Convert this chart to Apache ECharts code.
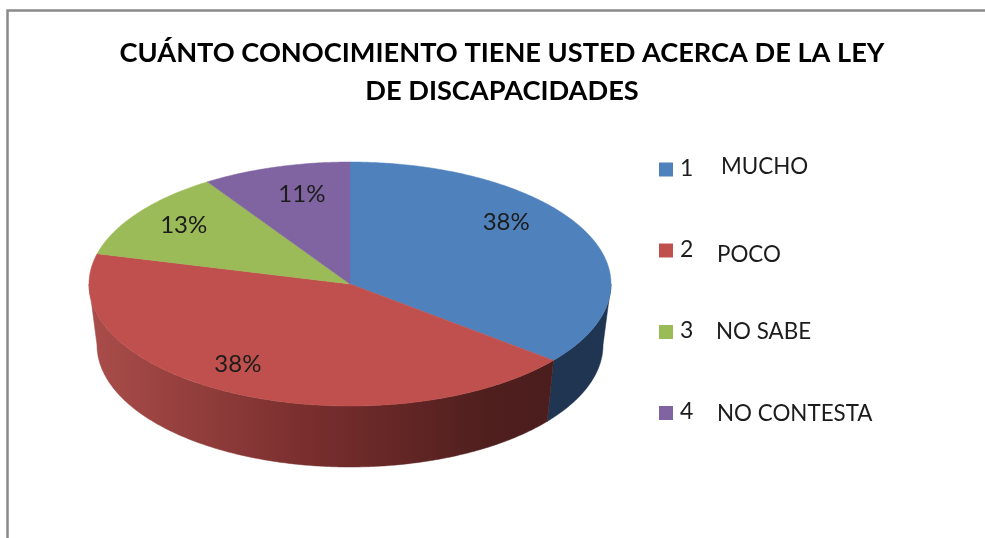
<!DOCTYPE html>
<html>
<head>
<meta charset="utf-8">
<style>html,body{margin:0;padding:0;background:#fff}#c{width:985px;height:538px}</style>
<script src="https://cdn.jsdelivr.net/npm/echarts@6/dist/echarts.min.js"></script>
</head>
<body>
<div id="c"></div>
<script>
const titleLines = ['CUÁNTO CONOCIMIENTO TIENE USTED ACERCA DE LA LEY', 'DE DISCAPACIDADES'];
const categoryIds = ['1', '2', '3', '4'];
const categoryNames = ['MUCHO', 'POCO', 'NO SABE', 'NO CONTESTA'];
const percentages = [38, 38, 13, 11];
const topColors = ['#4f81bd', '#c0504d', '#9bbb59', '#8064a2'];

// Layout of the tilted disc (Excel-like 3D pie with perspective)
const cx = 350, cy = 284, rx = 261, ry = 122;
const bx = 350, by = 345, brx = 253, bry = 122;
const perspective = 0.826;
const labelNudge = [[15, -30], [-42, 15], [-39, -16], [-3.5, -20]];
const legendStyleKeys = ['m', 'p', 's', 'c'];

const wallFills = [
  '#1f3552',
  {type: 'linear', x: 97, y: 0, x2: 553, y2: 0, global: true, colorStops: [
    {offset: 0, color: '#a84c49'},
    {offset: 0.45, color: '#7a2f2e'},
    {offset: 0.85, color: '#4f1f1e'},
    {offset: 1, color: '#4b1d1c'}
  ]},
  '#4f6228', '#403152'
];

const total = percentages.reduce((a, b) => a + b, 0);
function warp(frac) {
  const h = Math.PI * frac;
  return 2 * Math.atan2(perspective * Math.sin(h), Math.cos(h));
}
function pt(ex, ey, erx, ery, a) {
  return [ex + erx * Math.sin(a), ey - ery * Math.cos(a)];
}
function arc(ex, ey, erx, ery, a0, a1) {
  const out = [], n = Math.max(2, Math.ceil(Math.abs(a1 - a0) / 0.01));
  for (let i = 0; i <= n; i++) out.push(pt(ex, ey, erx, ery, a0 + (a1 - a0) * i / n));
  return out;
}
function makeRender(i) {
  return function (params, api) {
    const before = percentages.slice(0, i).reduce((a, b) => a + b, 0);
    const a0 = warp(before / total), a1 = warp((before + api.value(0)) / total);
    const children = [];
    const w0 = Math.max(a0, Math.PI / 2), w1 = Math.min(a1, Math.PI * 1.5);
    if (w1 > w0) {
      const pts = arc(cx, cy, rx, ry, w0, w1).concat(arc(bx, by, brx, bry, w1, w0));
      children.push({type: 'polygon', shape: {points: pts},
        style: {fill: wallFills[i], stroke: wallFills[i], lineWidth: 0.5}, silent: true});
    }
    const top = [[cx, cy]].concat(arc(cx, cy, rx, ry, a0, a1));
    children.push({type: 'polygon', shape: {points: top},
      style: {fill: topColors[i], stroke: topColors[i], lineWidth: 0.5}, silent: true, z2: 5});
    const mid = (a0 + a1) / 2, p = pt(cx, cy, rx * 0.6, ry * 0.6, mid);
    children.push({type: 'text', x: p[0] + labelNudge[i][0], y: p[1] + labelNudge[i][1], z2: 10, silent: true,
      style: {text: api.value(0) + '%', fill: '#1c1c1c', font: '400 24px Lato', align: 'center', verticalAlign: 'middle'}});
    return {type: 'group', children};
  };
}

const names = categoryIds.map((id, i) => id + ' ' + categoryNames[i]);
const chart = echarts.init(document.getElementById('c'), null, {renderer: 'canvas'});
chart.setOption({
  animation: false,
  backgroundColor: '#ffffff',
  title: {
    text: titleLines.join('\n'),
    left: 497, top: 29, textAlign: 'center',
    textStyle: {fontFamily: 'Lato', fontWeight: 'bold', fontSize: 27.2, lineHeight: 38, color: '#000'}
  },
  legend: {
    orient: 'vertical', left: 654, top: 150, icon: 'rect',
    itemWidth: 14, itemHeight: 14, itemGap: 52, selectedMode: false,
    data: names,
    formatter: function (n) {
      const i = names.indexOf(n);
      return '{n|' + categoryIds[i] + '}{' + legendStyleKeys[i] + '|' + categoryNames[i] + '}';
    },
    textStyle: {
      fontFamily: 'Lato', fontSize: 22, color: '#1c1c1c', lineHeight: 29,
      rich: {
        n: {fontFamily: 'Lato', fontSize: 23, color: '#1c1c1c', width: 28, padding: [0, 0, 2, 2]},
        m: {fontFamily: 'Lato', fontSize: 22.4, color: '#1c1c1c', padding: [0, 0, 5, 13]},
        p: {fontFamily: 'Lato', fontSize: 22.4, color: '#1c1c1c', padding: [8, 0, 0, 9]},
        s: {fontFamily: 'Lato', fontSize: 22.4, color: '#1c1c1c', padding: [0, 0, 0, 8]},
        c: {fontFamily: 'Lato', fontSize: 22.4, color: '#1c1c1c', padding: [2, 0, 0, 9]}
      }
    }
  },
  graphic: [{
    type: 'polyline', silent: true, z: -1,
    shape: {points: [[7.5, 538], [7.5, 10.5], [985, 10.5]]},
    style: {stroke: '#8a8a8a', lineWidth: 2.5, fill: null}
  }],
  series: categoryIds.map((id, i) => ({
    type: 'custom',
    name: names[i],
    coordinateSystem: 'none',
    itemStyle: {color: topColors[i]},
    renderItem: makeRender(i),
    data: [[percentages[i]]]
  }))
});
</script>
</body>
</html>
